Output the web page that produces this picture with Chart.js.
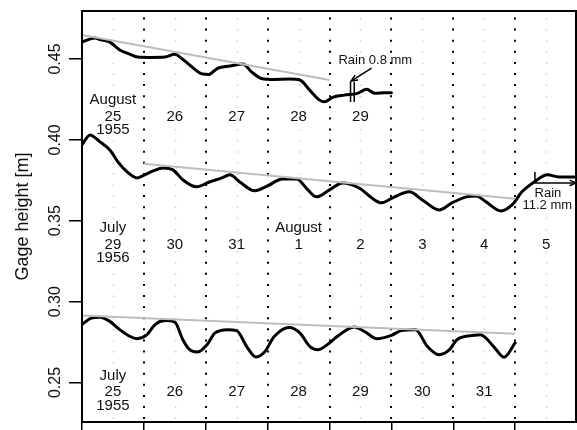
<!DOCTYPE html>
<html><head><meta charset="utf-8">
<script src="https://cdn.jsdelivr.net/npm/chart.js@4.4.0/dist/chart.umd.min.js"></script>
<style>html,body{margin:0;padding:0;background:#fff}canvas{display:block}</style>
</head><body>
<canvas id="c" width="577" height="430"></canvas>
<script>
const FONT = '"Liberation Sans", Arial, Helvetica, sans-serif';

// Axis ticks
const yTickValues = [0.25, 0.30, 0.35, 0.40, 0.45];
const yTickLabels = ['0.25', '0.30', '0.35', '0.40', '0.45'];
const xTickDays = [0, 1, 2, 3, 4, 5, 6, 7];
const dayLines = [1, 2, 3, 4, 5, 6, 7];
const halfDayLines = [0.5, 1.5, 2.5, 3.5, 4.5, 5.5, 6.5, 7.5];

// Series 1: August 25-29, 1955
const aug1955Days = [0,0.21,0.29,0.45,0.61,0.77,0.90,1.10,1.34,1.50,1.61,1.77,1.95,2.05,2.19,2.39,2.60,2.74,2.90,3.11,3.35,3.52,3.68,3.84,3.92,4.05,4.24,4.45,4.60,4.73,4.89,5.0];
const aug1955Gage = [0.4605,0.463,0.462,0.4605,0.4556,0.453,0.4512,0.451,0.4512,0.4529,0.4504,0.4453,0.4407,0.4405,0.4443,0.4457,0.447,0.4421,0.438,0.4374,0.4376,0.437,0.4308,0.4246,0.4236,0.4263,0.4277,0.4288,0.4313,0.4288,0.4292,0.4292];

// Series 2: July 29 - August 5, 1956
const jul1956Days = [0,0.13,0.29,0.45,0.58,0.73,0.89,0.98,1.15,1.31,1.47,1.63,1.85,2.06,2.26,2.39,2.55,2.79,3.0,3.24,3.47,3.65,3.79,4.0,4.21,4.48,4.68,4.84,5.02,5.29,5.5,5.77,5.98,6.21,6.37,6.53,6.77,6.95,7.11,7.31,7.52,7.71,7.97];
const jul1956Gage = [0.3969,0.4031,0.3988,0.3938,0.3864,0.3802,0.3765,0.3778,0.3808,0.3827,0.3815,0.3753,0.371,0.374,0.3765,0.3784,0.374,0.3685,0.3716,0.3759,0.3759,0.3691,0.3648,0.3691,0.3734,0.3703,0.3642,0.3611,0.3642,0.3679,0.3629,0.3567,0.3611,0.3648,0.3654,0.3617,0.3561,0.3598,0.3679,0.374,0.3784,0.3771,0.3771];

// Series 3: July 25-31, 1955
const jul1955Days = [0,0.13,0.29,0.45,0.61,0.77,0.89,1.05,1.18,1.34,1.5,1.63,1.74,1.87,2.02,2.15,2.35,2.5,2.66,2.81,2.95,3.11,3.35,3.52,3.68,3.81,4.0,4.13,4.4,4.56,4.77,5.0,5.16,5.39,5.58,5.77,5.94,6.06,6.34,6.44,6.65,6.82,7.0];
const jul1955Gage = [0.2858,0.2895,0.2903,0.2878,0.2827,0.2786,0.2771,0.2796,0.2858,0.2883,0.2874,0.2765,0.2703,0.2689,0.2734,0.2807,0.2827,0.2821,0.2724,0.2658,0.2689,0.2786,0.2841,0.2807,0.2724,0.2703,0.2745,0.2786,0.2844,0.2817,0.2771,0.2792,0.2821,0.2827,0.2724,0.2672,0.2703,0.2765,0.2792,0.2796,0.2724,0.2656,0.2745];

// Trend lines (gray)
const trendAug1955Days = [0, 4];
const trendAug1955Gage = [0.4649, 0.437];
const trendJul1956Days = [1, 7];
const trendJul1956Gage = [0.3852, 0.3636];
const trendJul1955Days = [0, 7];
const trendJul1955Gage = [0.2914, 0.2802];

// Rain marks
const rainMarkADays = [4.34, 4.34];
const rainMarkBDays = [4.40, 4.40];
const rainMarkAGage = [0.4358, 0.4234];
const rainMarkCDays = [7.32, 7.32];
const rainMarkCGage = [0.3802, 0.3734];

// Day label rows
const labelDaysCenters = [0.5, 1.5, 2.5, 3.5, 4.5, 5.5, 6.5, 7.5];
const rowAug1955Days = ['25', '26', '27', '28', '29'];
const rowJul1956Days = ['29', '30', '31', '1', '2', '3', '4', '5'];
const rowJul1955Days = ['25', '26', '27', '28', '29', '30', '31'];
const rowLevels = { // gage heights of label lines: month, day, year
  aug1955: [0.4247, 0.4142, 0.4061],
  jul1956: [0.3456, 0.3351, 0.3271],
  jul1955: [0.2543, 0.2444, 0.2357]
};

function pts(xs, ys) { return xs.map((x, i) => ({ x: x, y: ys[i] })); }

const curve = (xs, ys) => ({ data: pts(xs, ys), borderColor: '#000', borderWidth: 3, pointRadius: 0, cubicInterpolationMode: 'monotone', fill: false, borderCapStyle: 'round', borderJoinStyle: 'round' });
const trend = (xs, ys) => ({ data: pts(xs, ys), borderColor: '#bdbdbd', borderWidth: 2, pointRadius: 0, tension: 0, fill: false });
const mark = (xs, ys) => ({ data: pts(xs, ys), borderColor: '#000', borderWidth: 1.5, pointRadius: 0, tension: 0, fill: false });

function drawArrow(ctx, x1, y1, x2, y2, head) {
  ctx.beginPath(); ctx.moveTo(x1, y1); ctx.lineTo(x2, y2); ctx.stroke();
  const ang = Math.atan2(y2 - y1, x2 - x1);
  ctx.beginPath();
  ctx.moveTo(x2 - head * Math.cos(ang - 0.42), y2 - head * Math.sin(ang - 0.42));
  ctx.lineTo(x2, y2);
  ctx.lineTo(x2 - head * Math.cos(ang + 0.42), y2 - head * Math.sin(ang + 0.42));
  ctx.stroke();
}

const overlay = {
  id: 'overlay',
  beforeDatasetsDraw(chart) {
    const { ctx, chartArea: a, scales: { x } } = chart;
    ctx.save();
    ctx.lineCap = 'butt';
    ctx.strokeStyle = '#cfcfcf'; ctx.lineWidth = 1.5; ctx.setLineDash([1.5, 9.6]);
    halfDayLines.forEach(d => {
      const px = Math.round(x.getPixelForValue(d)) + 0.5;
      ctx.beginPath(); ctx.moveTo(px, a.top + 7); ctx.lineTo(px, a.bottom); ctx.stroke();
    });
    ctx.strokeStyle = '#000'; ctx.lineWidth = 2; ctx.setLineDash([2, 9.1]);
    dayLines.forEach(d => {
      const px = Math.round(x.getPixelForValue(d));
      ctx.beginPath(); ctx.moveTo(px, a.top + 6.5); ctx.lineTo(px, a.bottom); ctx.stroke();
    });
    ctx.restore();
  },
  afterDatasetsDraw(chart) {
    const { ctx, chartArea: a, scales: { x, y } } = chart;
    ctx.save();
    // frame
    ctx.strokeStyle = '#000'; ctx.lineWidth = 2; ctx.setLineDash([]);
    ctx.strokeRect(a.left, a.top, a.right - a.left - 1, a.bottom - a.top);

    // day labels
    ctx.fillStyle = '#111';
    ctx.textAlign = 'center'; ctx.textBaseline = 'middle';
    ctx.font = '15px ' + FONT;
    const txt = (s, d, g) => ctx.fillText(s, x.getPixelForValue(d), y.getPixelForValue(g));
    rowAug1955Days.forEach((s, i) => txt(s, labelDaysCenters[i], rowLevels.aug1955[1]));
    txt('August', labelDaysCenters[0], rowLevels.aug1955[0]);
    txt('1955', labelDaysCenters[0], rowLevels.aug1955[2]);
    rowJul1956Days.forEach((s, i) => txt(s, labelDaysCenters[i], rowLevels.jul1956[1]));
    txt('July', labelDaysCenters[0], rowLevels.jul1956[0]);
    txt('1956', labelDaysCenters[0], rowLevels.jul1956[2]);
    txt('August', labelDaysCenters[3], rowLevels.jul1956[0]);
    rowJul1955Days.forEach((s, i) => txt(s, labelDaysCenters[i], rowLevels.jul1955[1]));
    txt('July', labelDaysCenters[0], rowLevels.jul1955[0]);
    txt('1955', labelDaysCenters[0], rowLevels.jul1955[2]);

    // rain annotations
    ctx.font = '13px ' + FONT;
    ctx.textAlign = 'left';
    txt('Rain 0.8 mm', 4.145, 0.4494);
    ctx.textAlign = 'center';
    txt('Rain', 7.53, 0.3672);
    txt('11.2 mm', 7.52, 0.3598);
    ctx.strokeStyle = '#000'; ctx.lineWidth = 1.5;
    drawArrow(ctx, x.getPixelForValue(4.68), y.getPixelForValue(0.4444), x.getPixelForValue(4.35), y.getPixelForValue(0.4364), 7);
    drawArrow(ctx, x.getPixelForValue(7.32), y.getPixelForValue(0.3734), a.right - 1, y.getPixelForValue(0.3734), 7);

    // y tick labels (rotated)
    ctx.font = '16px ' + FONT;
    ctx.fillStyle = '#111';
    yTickValues.forEach((v, i) => {
      ctx.save();
      ctx.translate(54.5, y.getPixelForValue(v));
      ctx.rotate(-Math.PI / 2);
      ctx.textAlign = 'center'; ctx.textBaseline = 'middle';
      ctx.fillText(yTickLabels[i], 0, 1);
      ctx.restore();
    });
    ctx.restore();
  }
};

new Chart(document.getElementById('c'), {
  type: 'line',
  data: {
    datasets: [
      trend(trendAug1955Days, trendAug1955Gage),
      trend(trendJul1956Days, trendJul1956Gage),
      trend(trendJul1955Days, trendJul1955Gage),
      curve(aug1955Days, aug1955Gage),
      curve(jul1956Days, jul1956Gage),
      curve(jul1955Days, jul1955Gage),
      mark(rainMarkADays, rainMarkAGage),
      mark(rainMarkBDays, rainMarkAGage),
      mark(rainMarkCDays, rainMarkCGage)
    ]
  },
  options: {
    responsive: false,
    animation: false,
    devicePixelRatio: 1,
    layout: { padding: { top: 11, right: 0, left: 0, bottom: 0 } },
    plugins: { legend: { display: false }, tooltip: { enabled: false } },
    scales: {
      x: {
        type: 'linear', min: 0, max: 8,
        afterBuildTicks: s => { s.ticks = xTickDays.map(v => ({ value: v })); },
        afterFit: s => { s.height = 8; },
        ticks: { display: false },
        grid: { drawOnChartArea: false, drawTicks: true, tickLength: 8, color: '#000', lineWidth: 1.5 },
        border: { display: false }
      },
      y: {
        type: 'linear', min: 0.2256, max: 0.4797,
        afterBuildTicks: s => { s.ticks = yTickValues.map(v => ({ value: v })); },
        afterFit: s => { s.width = 82; },
        ticks: { display: false },
        grid: { drawOnChartArea: false, drawTicks: true, tickLength: 13, color: '#000', lineWidth: 1.5 },
        border: { display: false },
        title: { display: true, text: 'Gage height [m]', color: '#111', font: { size: 18, family: FONT }, padding: { top: 12, bottom: 0 } }
      }
    }
  },
  plugins: [overlay]
});
</script>
</body></html>
